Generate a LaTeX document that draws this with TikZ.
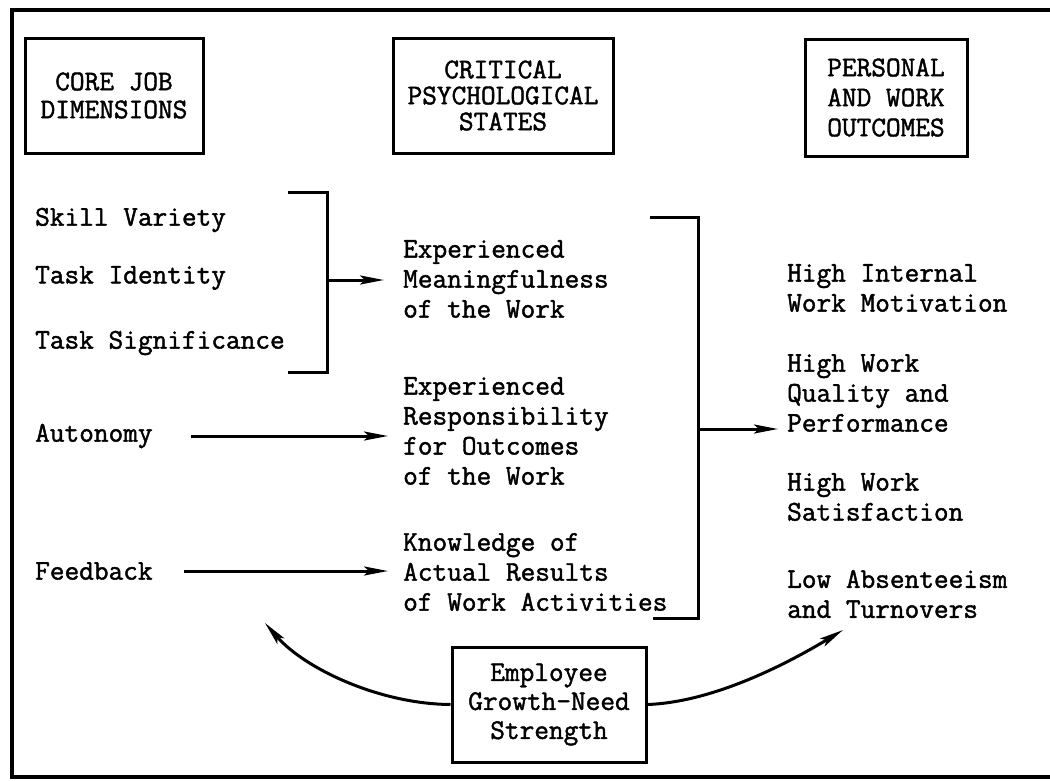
\documentclass[tikz,border=0pt]{standalone}
\usepackage{fontspec}
\newfontfamily\tw{Latin Modern Mono}[FakeBold=1.5]
\usetikzlibrary{arrows.meta}
\begin{document}
\begin{tikzpicture}[x=1pt,y=-1pt,
  lbl/.style={font=\tw\fontsize{28.5}{30}\selectfont, inner sep=0pt, anchor=west, align=left},
  hbox/.style={draw, line width=3pt, align=center, inner sep=0pt},
  conn/.style={line width=3pt},
  arr/.style={line width=3pt, -{Stealth[length=24pt,width=9pt,inset=5pt]}}]
\useasboundingbox (0,0) rectangle (1050,780);
\fill[white] (0,0) rectangle (1050,780);
\draw[line width=3.2pt] (1050,10) -- (12,10) -- (12,777) -- (1050,777);

% heading boxes
\node[hbox, minimum width=178pt, minimum height=115pt, font=\tw\fontsize{28.5}{28}\selectfont] (cjd) at (114,95.5) {CORE JOB\\DIMENSIONS};
\node[hbox, minimum width=220pt, minimum height=115pt, font=\tw\fontsize{28.5}{26}\selectfont] (cps) at (503,95.5) {CRITICAL\\PSYCHOLOGICAL\\STATES};
\node[hbox, minimum width=162pt, minimum height=117pt, font=\tw\fontsize{28.5}{30}\selectfont] (pwo) at (886,97.5) {PERSONAL\\AND WORK\\OUTCOMES};

% core job dimensions
\node[lbl] (sv) at (35,220) {Skill Variety};
\node[lbl] (ti) at (35,278) {Task Identity};
\node[lbl] (ts) at (35,343) {Task Significance};
\node[lbl] (au) at (35,436) {Autonomy};
\node[lbl] (fb) at (35,571) {Feedback};

% psychological states
\node[lbl] (ce1) at (403,279) {Experienced\\Meaningfulness\\of the Work};
\node[lbl] (ce2) at (403,431) {Experienced\\Responsibility\\for Outcomes\\of the Work};
\node[lbl] (ce3) at (403,572) {Knowledge of\\Actual Results\\of Work Activities};

% outcomes
\node[lbl] (o1) at (787,288) {High Internal\\Work Motivation};
\node[lbl] (o2) at (787,393) {High Work\\Quality and\\Performance};
\node[lbl] (o3) at (787,497) {High Work\\Satisfaction};
\node[lbl] (o4) at (787,594) {Low Absenteeism\\and Turnovers};

% growth need strength
\node[hbox, minimum width=194pt, minimum height=115pt, font=\tw\fontsize{28.5}{29}\selectfont] (egn) at (549,704.5) {Employee\\Growth-Need\\Strength};

% bracket 1
\coordinate (b1t) at (288,192);
\coordinate (b1b) at (288,372);
\coordinate (b1m) at (327,280);
\draw[conn] (b1t) -- (b1t -| b1m) -- (b1b -| b1m) -- (b1b);
\draw[arr, shorten >=19pt] (b1m) -- (b1m -| ce1.west);

% single arrows
\draw[arr, shorten <=38pt, shorten >=15pt] (au.east) -- (au.east -| ce2.west);
\draw[arr, shorten <=31pt, shorten >=15pt] (fb.east) -- (fb.east -| ce3.west);

% bracket 2
\coordinate (b2t) at (650,217);
\coordinate (b2b) at (653,618);
\coordinate (b2m) at (698,429);
\draw[conn] (b2t) -- (b2t -| b2m) -- (b2b -| b2m) -- (b2b);
\draw[arr, shorten >=9pt] (b2m) -- (b2m -| o2.west);

% curved arrows from growth need strength
\coordinate (tl) at (265,623);
\coordinate (tr) at (843,630);
\draw[arr] (egn.west) .. controls (380,704) and (305,669) .. (tl);
\draw[arr] (egn.east) .. controls (715,702) and (790,662) .. (tr);
\end{tikzpicture}
\end{document}
